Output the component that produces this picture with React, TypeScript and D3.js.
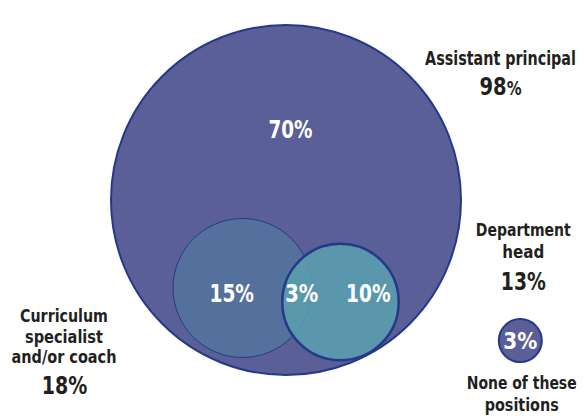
import React, { useLayoutEffect, useRef, useState } from "react";
import * as d3 from "d3";

// ---- Data ----
const setNames = ["Assistant principal", "Curriculum specialist and/or coach", "Department head"];
const setTotals = [98, 18, 13];
const regionLabels = ["70%", "15%", "3%", "10%"];
const noneLabel = "None of these positions";
const noneValue = 3;

const FONT = "'Liberation Sans Narrow', 'DejaVu Sans Condensed', 'Liberation Sans', sans-serif";

function FitText(props: { x: number; y: number; width: number; size: number; fill: string; children: React.ReactNode }) {
  const ref = useRef<SVGTextElement>(null);
  const [sx, setSx] = useState(1);
  useLayoutEffect(() => {
    if (ref.current) {
      const w = ref.current.getComputedTextLength();
      if (w > 0) setSx(props.width / w);
    }
  }, [props.width, props.size]);
  return (
    <g transform={`translate(${props.x},${props.y}) scale(${sx},1)`}>
      <text ref={ref} x={0} y={0} textAnchor="middle" fill={props.fill} fontSize={props.size}>{props.children}</text>
    </g>
  );
}

export default function App() {
  const W = 584, H = 420;
  // radius scale (power scale fitted to the picture)
  const r = d3.scalePow().exponent(0.545).domain([0, 98]).range([0, 175]);
  const centers = [
    { x: 286, y: 200 },
    { x: 242.5, y: 288 },
    { x: 340.5, y: 302 },
  ];
  const fills = ["#5a5f97", "#53719c", "#5aa0af"];
  const opac = [1, 1, 0.85];
  const strokeW = [2, 1, 2.5];
  const stroke = "#24398a";
  const txt = "#231f20";
  const fmt = (v: number) => `${v}%`;

  const [curA, curB, curC] = ["Curriculum", "specialist", "and/or coach"];
  const nameWords = setNames[1].split(" ");
  const cur1 = nameWords[0];
  const cur2 = nameWords[1];
  const cur3 = nameWords.slice(2).join(" ");
  const dep = setNames[2].split(" ");
  const noneWords = noneLabel.split(" ");

  const inner = [
    { x: 290.5, y: 137.5, w: 44 },
    { x: 231.7, y: 301.7, w: 44.5 },
    { x: 301.8, y: 301.7, w: 33 },
    { x: 368.3, y: 301.7, w: 44.5 },
  ];

  return (
    <svg width={W} height={H} style={{ position: "absolute", left: 0, top: 0 }} fontFamily={FONT} fontWeight="bold">
      {setTotals.map((v, i) => (
        <circle key={i} cx={centers[i].x} cy={centers[i].y} r={r(v)}
          fill={fills[i]} fillOpacity={opac[i]} stroke={stroke} strokeWidth={strokeW[i]} />
      ))}
      {inner.map((p, i) => (
        <FitText key={i} x={p.x} y={p.y} width={p.w} size={24} fill="#fff">{regionLabels[i]}</FitText>
      ))}

      {/* Assistant principal */}
      <FitText x={500.5} y={65} width={151} size={19.5} fill={txt}>{setNames[0]}</FitText>
      <FitText x={500.5} y={95} width={42} size={25} fill={txt}>
        <tspan>{setTotals[0]}</tspan><tspan fontSize={19}>%</tspan>
      </FitText>

      {/* Department head */}
      <FitText x={523.3} y={236} width={95} size={18.5} fill={txt}>{dep[0]}</FitText>
      <FitText x={523.3} y={257.5} width={42} size={18.5} fill={txt}>{dep[1]}</FitText>
      <FitText x={523.3} y={289.5} width={45} size={24.5} fill={txt}>{fmt(setTotals[2])}</FitText>

      {/* Curriculum */}
      <FitText x={64} y={321.7} width={88} size={18.5} fill={txt}>{cur1}</FitText>
      <FitText x={64} y={342.7} width={78} size={18.5} fill={txt}>{cur2}</FitText>
      <FitText x={64} y={363.3} width={105} size={18.5} fill={txt}>{cur3}</FitText>
      <FitText x={64.5} y={394.3} width={45.5} size={24.5} fill={txt}>{fmt(setTotals[1])}</FitText>

      {/* None */}
      <circle cx={520.3} cy={340.6} r={21.5} fill={fills[0]} stroke={stroke} strokeWidth={2} />
      <FitText x={520.3} y={349} width={34} size={23} fill="#fff">{fmt(noneValue)}</FitText>
      <FitText x={521.7} y={389.3} width={110} size={18.5} fill={txt}>{noneWords.slice(0, 3).join(" ")}</FitText>
      <FitText x={521.7} y={410.5} width={74} size={18.5} fill={txt}>{noneWords[3]}</FitText>
    </svg>
  );
}
